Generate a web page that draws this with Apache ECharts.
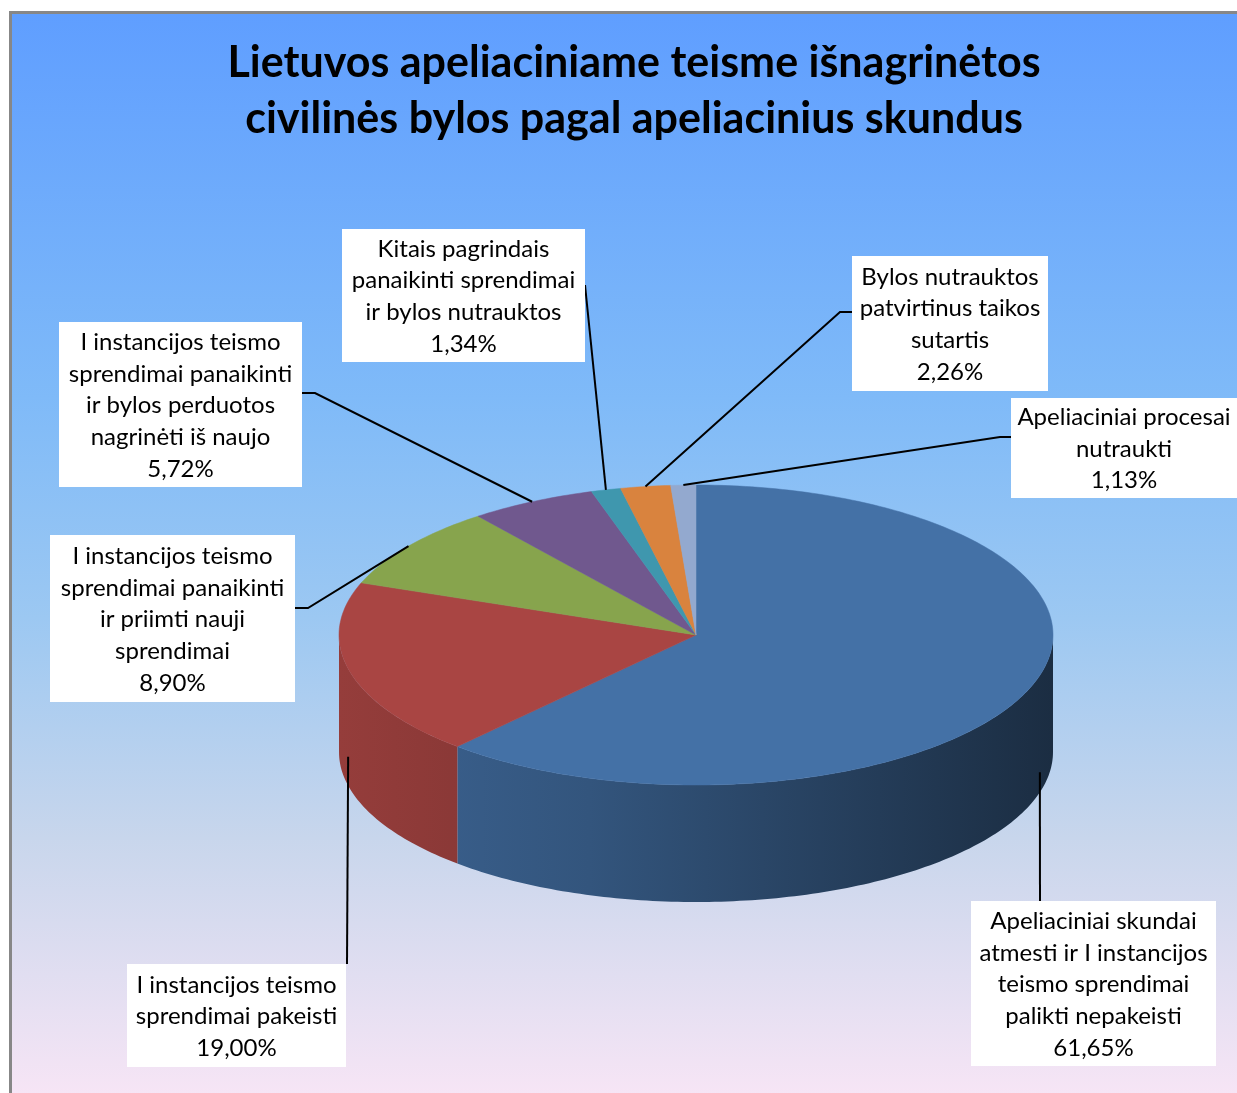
<!DOCTYPE html>
<html>
    <head>
        <meta charset="utf-8">
        <script src="https://cdn.jsdelivr.net/npm/echarts@6/dist/echarts.min.js"></script>
        <style type="text/css">
            #main {height:1093px;width:1237px;position:absolute;left:0;top:0;}
            body {margin:0px;padding:0px;overflow:hidden;background:#fff;}
        </style>
    </head>
    <body>
        <div id="main"></div>
        <script type="text/javascript">
            // duomenys
            let names = [
                'Apeliaciniai skundai\natmesti ir I instancijos\nteismo sprendimai\npalikti nepakeisti',
                'I instancijos teismo\nsprendimai pakeisti',
                'I instancijos teismo\nsprendimai panaikinti\nir priimti nauji\nsprendimai',
                'I instancijos teismo\nsprendimai panaikinti\nir bylos perduotos\nnagrinėti iš naujo',
                'Kitais pagrindais\npanaikinti sprendimai\nir bylos nutrauktos',
                'Bylos nutrauktos\npatvirtinus taikos\nsutartis',
                'Apeliaciniai procesai\nnutraukti'
            ];
            let values = [61.65, 19.00, 8.90, 5.72, 1.34, 2.26, 1.13];
            let colors = ['#4471a6', '#a94543', '#87a44d', '#70588e', '#3f97ae', '#d9833e', '#93a9cf'];

            // pyrago geometrija
            let cx = 696, cy = 635, rx = 357, ry = 150, depth = 117;
            // etikečių išdėstymas: dėžutė, laužtinės linijos taškai, kampas/nuleidimas ant pyrago
            let labelLayout = [
                {box:[971, 901, 245, 165], path:[[1040, 901]], angle:105.6, drop:97},
                {box:[127, 964, 219, 103], path:[[347, 964]], angle:257, drop:88},
                {box:[50, 535, 245, 167], path:[[308, 608], [295, 608]]},
                {box:[59, 322, 243, 165], path:[[315, 393], [302, 393]]},
                {box:[342, 229, 243, 133], path:[[585, 285]]},
                {box:[852, 256, 196, 135], path:[[840, 312], [852, 312]]},
                {box:[1011, 398, 226, 100], path:[[1000, 437], [1011, 437]]}
            ];

            let total = values.reduce((a, b) => a + b, 0);
            let starts = [];
            let acc = 0;
            for (let i = 0; i < values.length; i++) { starts.push(acc); acc += values[i]; }

            function pt(deg, dy) {
                let a = deg * Math.PI / 180;
                return [cx + rx * Math.sin(a), cy - ry * Math.cos(a) + (dy || 0)];
            }
            function shade(hex, f) {
                let n = parseInt(hex.slice(1), 16);
                let r = Math.round(((n >> 16) & 255) * f), g = Math.round(((n >> 8) & 255) * f), b = Math.round((n & 255) * f);
                return 'rgb(' + r + ',' + g + ',' + b + ')';
            }

            function renderItem(params, api) {
                let i = params.dataIndex;
                let a0 = starts[i] / total * 360;
                let a1 = (starts[i] + values[i]) / total * 360;
                let children = [];

                // šoninė sienelė (tik priekinė dalis 90..270)
                let s = Math.max(a0, 90), e = Math.min(a1, 270);
                if (e > s) {
                    let top = [], bottom = [];
                    let n = Math.max(2, Math.ceil(e - s));
                    for (let k = 0; k <= n; k++) {
                        let d = s + (e - s) * k / n;
                        top.push(pt(d));
                        bottom.push(pt(d, depth));
                    }
                    children.push({
                        type:'polygon',
                        shape:{points: top.concat(bottom.reverse())},
                        style:{
                            fill: new echarts.graphic.LinearGradient(cx - rx, 0, cx + rx, 0, [
                                {offset:0, color: shade(colors[i], 0.88)},
                                {offset:0.35, color: shade(colors[i], 0.75)},
                                {offset:1, color: shade(colors[i], 0.4)}
                            ], true)
                        }
                    });
                }

                // viršutinė plokštuma
                let pts = [[cx, cy]];
                let m = Math.max(2, Math.ceil(a1 - a0));
                for (let k = 0; k <= m; k++) pts.push(pt(a0 + (a1 - a0) * k / m));
                children.push({type:'polygon', shape:{points: pts}, style:{fill: colors[i], stroke: colors[i], lineWidth: 0.5}});

                // etiketė
                let L = labelLayout[i];
                let ang = L.angle !== undefined ? L.angle : (a0 + a1) / 2;
                let anchor = pt(ang, L.drop || 0);
                children.push({
                    type:'polyline',
                    shape:{points: [anchor].concat(L.path)},
                    style:{stroke:'#000', lineWidth:2, fill:null},
                    z2: 20
                });
                children.push({
                    type:'rect',
                    shape:{x:L.box[0], y:L.box[1], width:L.box[2], height:L.box[3]},
                    style:{fill:'#fff'},
                    z2: 21
                });
                let pct = values[i].toFixed(2).replace('.', ',') + '%';
                children.push({
                    type:'text',
                    x: L.box[0] + L.box[2] / 2,
                    y: L.box[1] + L.box[3] / 2 + 1,
                    style:{
                        text: names[i] + '\n' + pct,
                        fill:'#000',
                        font:'24px Lato',
                        lineHeight: 31.7,
                        align:'center',
                        verticalAlign:'middle'
                    },
                    z2: 22
                });
                return {type:'group', children: children};
            }

            let myChart = echarts.init(document.getElementById('main'));
            let option = {
                animation:false,
                backgroundColor:'#fff',
                graphic:[{
                    type:'rect',
                    z:-10,
                    shape:{x:10.5, y:12.5, width:1240, height:1100},
                    style:{
                        fill: new echarts.graphic.LinearGradient(0, 0, 0, 1, [
                            {offset:0, color:'#5f9eff'},
                            {offset:0.35, color:'#7fbaf8'},
                            {offset:0.55, color:'#9cc8f2'},
                            {offset:0.75, color:'#c8d6ec'},
                            {offset:1, color:'#fae6f6'}
                        ]),
                        stroke:'#878787',
                        lineWidth:3
                    }
                }],
                title:{
                    text:'Lietuvos apeliaciniame teisme išnagrinėtos\ncivilinės bylos pagal apeliacinius skundus',
                    left:629,
                    top:30,
                    textAlign:'center',
                    textStyle:{
                        fontFamily:'Lato',
                        fontWeight:'bold',
                        fontSize:43,
                        lineHeight:56,
                        color:'#000'
                    }
                },
                series:[{
                    type:'custom',
                    coordinateSystem:'none',
                    renderItem: renderItem,
                    data: values.map((v, i) => [i, v])
                }]
            };
            myChart.setOption(option);
            window.onresize = myChart.resize;
        </script>
    </body>
</html>
